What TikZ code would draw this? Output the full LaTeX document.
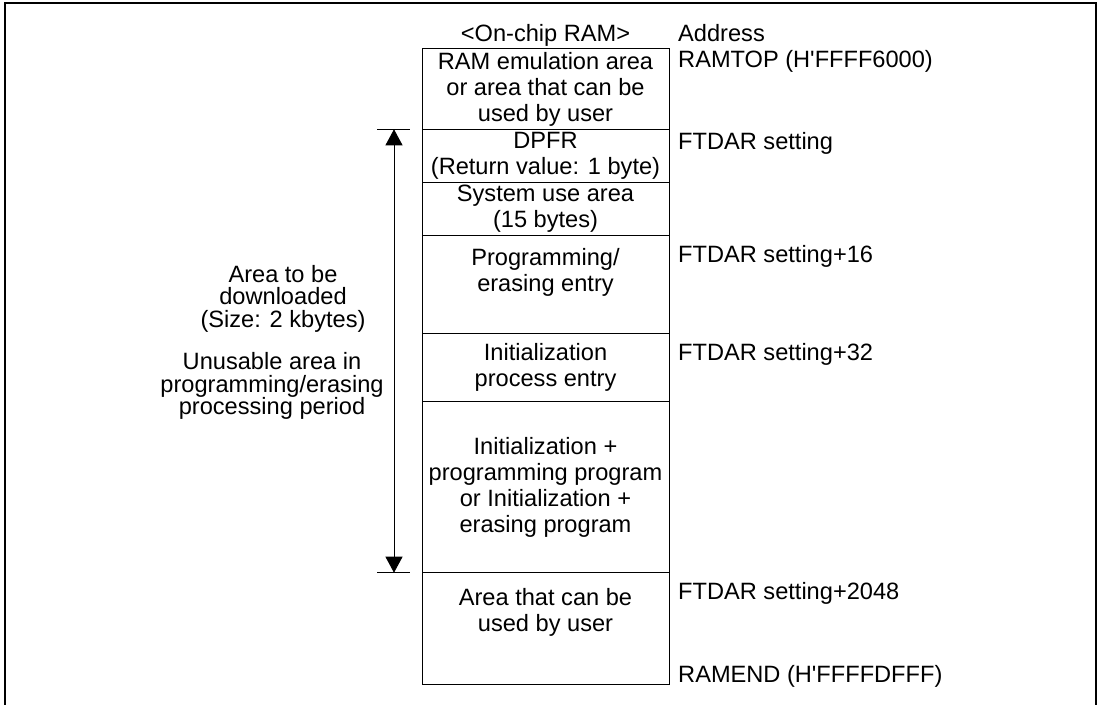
\documentclass[tikz,border=0pt]{standalone}
\usepackage{fontspec}
\setmainfont{Liberation Sans}
\usetikzlibrary{positioning,arrows.meta}

\begin{document}
\begin{tikzpicture}[
        x=1bp, y=-1bp,
        node distance=0pt,
        font=\fontsize{23.7}{26}\selectfont,
        cell/.style={rectangle, draw, line width=1bp, minimum width=247bp,
                     inner sep=0pt, outer sep=0pt, align=center},
        toptext/.style={anchor=north, inner sep=0pt, align=center},
        addr/.style={anchor=base west, inner sep=0pt},
        note/.style={inner sep=0pt, align=center, font=\fontsize{23.7}{22.5}\selectfont},
        dimline/.style={{Triangle[width=17bp,length=16bp]}-{Triangle[width=17bp,length=16bp]}, line width=1bp},
        tick/.style={line width=1bp}
    ]
        \useasboundingbox (0,0) rectangle (1100,705);
        % outer frame
        \draw[line width=2.5bp] (5,705) -- (5,3) -- (1096,3) -- (1096,705);

        % memory map
        \node[anchor=base, inner sep=0pt] (title) at (545.5,41.7) {<On-chip RAM>};
        \node[cell, anchor=north, minimum height=80.6bp] (emu) at (545.5,48.7)
            {RAM emulation area\\or area that can be\\used by user};
        \node[cell, minimum height=52.7bp, below=of emu] (dpfr) {DPFR\\(Return value: 1 byte)};
        \node[cell, minimum height=53bp, below=of dpfr] (sys) {System use area\\(15 bytes)};
        \node[cell, minimum height=98.3bp, below=of sys] (pentry) {};
        \node[toptext] (pentrytxt) at ([yshift=-12.8bp]pentry.north) {Programming/\\erasing entry};
        \node[cell, minimum height=68.4bp, below=of pentry] (ientry) {Initialization\\process entry};
        \node[cell, minimum height=171bp, below=of ientry] (prog)
            {Initialization +\\programming program\\or Initialization +\\erasing program};
        \node[cell, minimum height=111.3bp, below=of prog] (user) {};
        \node[toptext] (usertxt) at ([yshift=-15.3bp]user.north) {Area that can be\\used by user};

        % addresses
        \node[addr] (address) at (678,41.7) {Address};
        \node[addr] (ramtop) at (678,68) {RAMTOP (H\textquotesingle FFFF6000)};
        \node[addr] (ftdar) at (678,150) {FTDAR setting};
        \node[addr] (ftdar16) at (678,262) {FTDAR setting+16};
        \node[addr] (ftdar32) at (678,360) {FTDAR setting+32};
        \node[addr] (ftdar2048) at (678,599) {FTDAR setting+2048};
        \node[addr] (ramend) at (678,682) {RAMEND (H\textquotesingle FFFFDFFF)};

        % download area
        \coordinate (dltop) at ([xshift=-28bp]dpfr.north west);
        \coordinate (dlbot) at ([xshift=-28bp]user.north west);
        \draw[tick] ([xshift=-17bp]dltop) -- ([xshift=16bp]dltop);
        \draw[tick] ([xshift=-17bp]dlbot) -- ([xshift=16bp]dlbot);
        \draw[dimline] (dltop) -- (dlbot);
        \node[note] (dlsize) at (283,298.5) {Area to be\\downloaded\\(Size: 2 kbytes)};
        \node[note] (unusable) at (272,386) {Unusable area in\\programming/erasing\\processing period};
    \end{tikzpicture}
\end{document}
